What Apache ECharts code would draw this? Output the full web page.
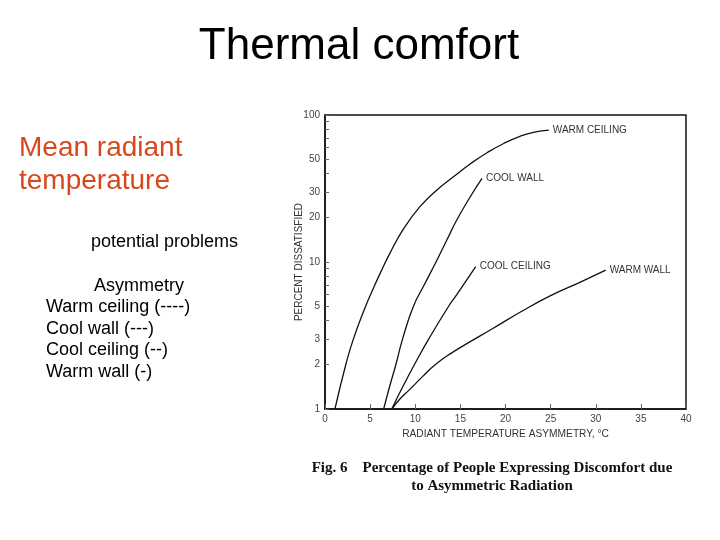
<!DOCTYPE html>
<html>
<head>
<meta charset="utf-8">
<script src="https://cdn.jsdelivr.net/npm/echarts@6/dist/echarts.min.js"></script>
<style>
  html, body { margin: 0; padding: 0; background: #fff; }
  #main { width: 720px; height: 540px; }
</style>
</head>
<body>
<div id="main"></div>
<script>
// curves (x = asymmetry in °C, y = percent dissatisfied)
const warmCeilingX = [1.1, 2.3, 3.15, 4.5, 5.3, 6.2, 7.2, 8.7, 10.5, 12.4, 14.3, 16.2, 18.0, 19.8, 21.6, 23.2, 24.8];
const warmCeilingY = [1.0, 2.0, 3.0, 5.0, 6.5, 8.6, 11.5, 16.8, 23.7, 30.9, 38.3, 47, 55.6, 64, 71.6, 76.6, 79];

const coolWallX = [6.5, 7.2, 7.85, 8.6, 9.8, 11.0, 12.3, 13.5, 14.6, 16.1, 17.4];
const coolWallY = [1.0, 1.45, 2.0, 3.0, 5.0, 7.0, 10, 14.1, 19.3, 27.8, 37];

const coolCeilingX = [7.4, 8.6, 9.9, 11.5, 13.7, 14.6, 16.7];
const coolCeilingY = [1.0, 1.41, 2.0, 3.0, 5.0, 6.0, 9.3];

const warmWallX = [7.4, 8.3, 9.4, 10.8, 12.2, 14.0, 16.0, 18.5, 22.0, 25.0, 28.3, 31.1];
const warmWallY = [1.0, 1.17, 1.36, 1.66, 2.0, 2.4, 2.85, 3.5, 4.7, 5.9, 7.3, 8.8];

const seriesNames = ["WARM CEILING", "COOL WALL", "COOL CEILING", "WARM WALL"];
const xTicks = [0, 5, 10, 15, 20, 25, 30, 35, 40];
const yLabels = [1, 2, 3, 5, 10, 20, 30, 50, 100];
const yTicks = [1, 2, 3, 4, 5, 6, 7, 8, 9, 10, 20, 30, 40, 50, 60, 70, 80, 90, 100];

const leftLines = ["Warm ceiling (----)", "Cool wall (---)", "Cool ceiling (--)", "Warm wall (-)"];

function pairs(xs, ys) {
  return xs.map((x, i) => [x, ys[i]]);
}

const myChart = echarts.init(document.getElementById("main"));

const sans = "Liberation Sans";

function curve(name, xs, ys) {
  return {
    name: name,
    type: "line",
    data: pairs(xs, ys),
    smooth: 0.5,
    showSymbol: false,
    lineStyle: { color: "#111", width: 1.3 },
    endLabel: {
      show: true,
      formatter: "{a}",
      fontFamily: sans,
      fontSize: 10,
      color: "#333",
      distance: 4
    }
  };
}

const graphics = [
  {
    type: "text", x: 359, y: 47,
    style: { text: "Thermal comfort", font: "44px " + sans, fill: "#000",
      textAlign: "center", align: "center", textVerticalAlign: "middle", verticalAlign: "middle" }
  },
  {
    type: "text", x: 19, y: 148,
    style: { text: "Mean radiant", font: "28px " + sans, fill: "#d9481c",
      textVerticalAlign: "middle", verticalAlign: "middle" }
  },
  {
    type: "text", x: 19, y: 181,
    style: { text: "temperature", font: "28px " + sans, fill: "#d9481c",
      textVerticalAlign: "middle", verticalAlign: "middle" }
  },
  {
    type: "text", x: 91, y: 242,
    style: { text: "potential problems", font: "18px " + sans, fill: "#000",
      textVerticalAlign: "middle", verticalAlign: "middle" }
  },
  {
    type: "text", x: 94, y: 286,
    style: { text: "Asymmetry", font: "18px " + sans, fill: "#000",
      textVerticalAlign: "middle", verticalAlign: "middle" }
  },
  {
    type: "text", x: 492, y: 468,
    style: { text: "Fig. 6    Percentage of People Expressing Discomfort due", font: "bold 15px Liberation Serif", fill: "#111",
      textAlign: "center", align: "center", textVerticalAlign: "middle", verticalAlign: "middle" }
  },
  {
    type: "text", x: 492, y: 486,
    style: { text: "to Asymmetric Radiation", font: "bold 15px Liberation Serif", fill: "#111",
      textAlign: "center", align: "center", textVerticalAlign: "middle", verticalAlign: "middle" }
  }
];
leftLines.forEach((t, i) => {
  graphics.push({
    type: "text", x: 46, y: 307 + i * 21.6,
    style: { text: t, font: "18px " + sans, fill: "#000",
      textVerticalAlign: "middle", verticalAlign: "middle" }
  });
});

myChart.setOption({
  animation: false,
  backgroundColor: "#fff",
  grid: {
    left: 325, right: 34, top: 115, bottom: 131,
    show: true, borderColor: "#111", borderWidth: 1.5
  },
  xAxis: {
    type: "value",
    min: 0, max: 40, interval: 5,
    name: "RADIANT TEMPERATURE ASYMMETRY, °C",
    nameLocation: "middle",
    nameGap: 20,
    nameTextStyle: { fontFamily: sans, fontSize: 10.2, color: "#333" },
    axisLine: { lineStyle: { color: "#111", width: 1.5 } },
    axisTick: { inside: true, length: 5, lineStyle: { color: "#666" } },
    axisLabel: { customValues: xTicks, fontFamily: sans, fontSize: 10, color: "#444", margin: 5 },
    splitLine: { show: false }
  },
  yAxis: {
    type: "log",
    logBase: 10,
    min: 1, max: 100,
    name: "PERCENT DISSATISFIED",
    nameLocation: "middle",
    nameGap: 21,
    nameMoveOverlap: false,
    nameTextStyle: { fontFamily: sans, fontSize: 10, color: "#333" },
    axisLine: { lineStyle: { color: "#111", width: 1.5 } },
    axisTick: { inside: true, length: 4, customValues: yTicks, lineStyle: { color: "#666" } },
    axisLabel: { customValues: yLabels, fontFamily: sans, fontSize: 10, color: "#444", margin: 5 },
    splitLine: { show: false }
  },
  series: [
    curve(seriesNames[0], warmCeilingX, warmCeilingY),
    curve(seriesNames[1], coolWallX, coolWallY),
    curve(seriesNames[2], coolCeilingX, coolCeilingY),
    curve(seriesNames[3], warmWallX, warmWallY)
  ],
  graphic: graphics
});
</script>
</body>
</html>
